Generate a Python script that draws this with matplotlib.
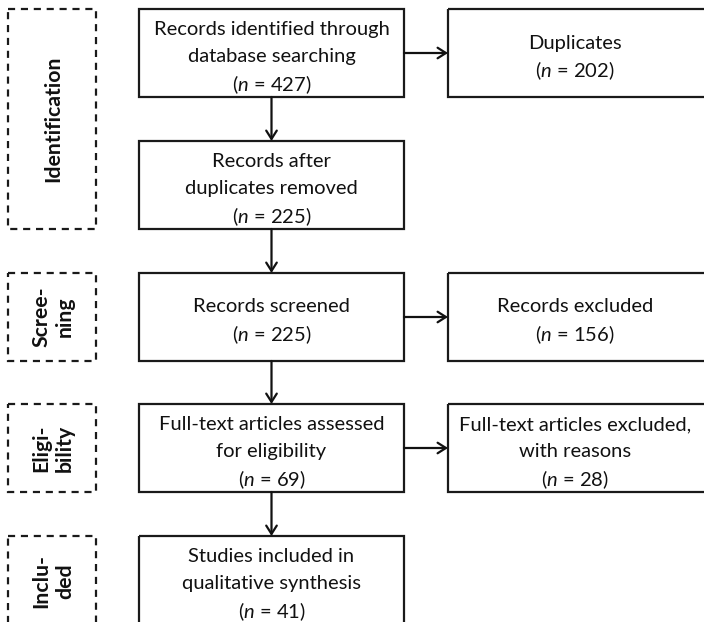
import matplotlib
matplotlib.use("Agg")
import matplotlib.pyplot as plt
from matplotlib.patches import Rectangle

FONT = "Lato"
plt.rcParams["font.family"] = [FONT, "DejaVu Sans"]
plt.rcParams["mathtext.fontset"] = "custom"
plt.rcParams["mathtext.rm"] = FONT
plt.rcParams["mathtext.it"] = FONT + ":italic"

# ---- data ----
stages = ["Identification", "Scree-\nning", "Eligi-\nbility", "Inclu-\nded"]
main_labels = ["Records identified through\ndatabase searching",
               "Records after\nduplicates removed",
               "Records screened",
               "Full-text articles assessed\nfor eligibility",
               "Studies included in\nqualitative synthesis"]
main_counts = [427, 225, 225, 69, 41]
side_labels = ["Duplicates", "Records excluded",
               "Full-text articles excluded,\nwith reasons"]
side_counts = [202, 156, 28]

# ---- layout (pixel coordinates) ----
W, H = 704, 622
fig = plt.figure(figsize=(W / 100, H / 100), dpi=100)
ax = fig.add_axes([0, 0, 1, 1])
ax.set_xlim(0, W)
ax.set_ylim(H, 0)
ax.axis("off")

main_x0, main_x1 = 139, 404
side_x0, side_x1 = 448, 706
stage_x0, stage_x1 = 8, 96
main_rows = [(9, 97), (141, 229), (273, 361), (404, 492), (536, 626)]
side_rows = [0, 2, 3]
stage_rows = [(9, 229), (273, 361), (404, 492), (536, 626)]

FS = 14.5
LW = 1.6
PITCH = 27

def box(x0, y0, x1, y1, dashed=False):
    r = Rectangle((x0, y0), x1 - x0, y1 - y0, fill=False, edgecolor="#1a1a1a",
                  lw=LW, linestyle=(0, (3.2, 2.6)) if dashed else "-",
                  clip_on=True)
    ax.add_patch(r)

def label(xc, yc, text, n):
    lines = text.split("\n") + ["(" + r"$\mathit{n}$" + " = %d)" % n]
    k = len(lines)
    for i, ln in enumerate(lines):
        ax.text(xc, yc + (i - (k - 1) / 2) * PITCH, ln, ha="center",
                va="center_baseline", fontsize=FS, color="#111111")

def arrow(x0, y0, x1, y1):
    ax.annotate("", xy=(x1, y1), xytext=(x0, y0),
                arrowprops=dict(arrowstyle="->,head_length=0.6,head_width=0.38",
                                lw=LW, color="#111111", shrinkA=0, shrinkB=0))

# stage boxes
for (y0, y1), s in zip(stage_rows, stages):
    box(stage_x0, y0, stage_x1, y1, dashed=True)
    yc = (y0 + y1) / 2 if y1 <= H else (y0 + 622) / 2 + 2
    ax.text((stage_x0 + stage_x1) / 2 + 1, yc, s, rotation=90, ha="center",
            va="center", fontsize=15.3, fontweight="bold", linespacing=1.25,
            color="#111111")

# main boxes
for (y0, y1), t, n in zip(main_rows, main_labels, main_counts):
    box(main_x0, y0, main_x1, y1)
    yc = (y0 + y1) / 2 + 2 if y1 <= H else 582
    label((main_x0 + main_x1) / 2, yc, t, n)

# side boxes
for i, t, n in zip(side_rows, side_labels, side_counts):
    y0, y1 = main_rows[i]
    box(side_x0, y0, side_x1, y1)
    label((side_x0 + 702) / 2, (y0 + y1) / 2 + 2, t, n)
    arrow(main_x1, (y0 + y1) / 2, side_x0, (y0 + y1) / 2)

# vertical arrows
xc = (main_x0 + main_x1) / 2
for (a0, a1), (b0, b1) in zip(main_rows[:-1], main_rows[1:]):
    arrow(xc, a1, xc, b0)

fig.savefig("out.png", dpi=100, facecolor="white")
